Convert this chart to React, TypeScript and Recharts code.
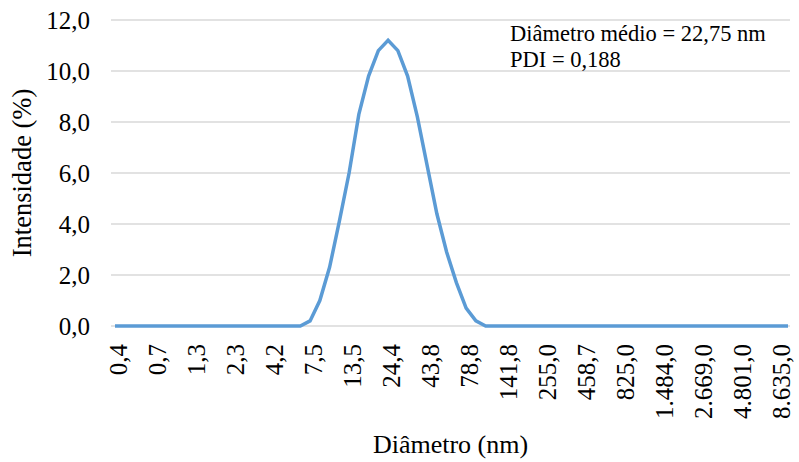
import React from 'react';
import { LineChart, Line, XAxis, YAxis, CartesianGrid, Label, Customized } from 'recharts';

// size bins (nm) of the DLS distribution
const diameters = [
  0.4, 0.4632, 0.5365, 0.6213, 0.7195, 0.8332, 0.9649, 1.117, 1.294, 1.499,
  1.736, 2.01, 2.328, 2.696, 3.122, 3.615, 4.187, 4.849, 5.615, 6.503,
  7.531, 8.721, 10.1, 11.7, 13.54, 15.69, 18.17, 21.04, 24.36, 28.21,
  32.67, 37.84, 43.82, 50.75, 58.77, 68.06, 78.82, 91.28, 105.7, 122.4,
  141.8, 164.2, 190.1, 220.2, 255.0, 295.3, 342.0, 396.1, 458.7, 531.2,
  615.1, 712.4, 825.0, 955.4, 1106, 1281, 1484, 1718, 1990, 2305,
  2669, 3091, 3580, 4145, 4801, 5560, 6439, 7456, 8635, 10000,
];

// intensity (%)
const intensity = [
  0, 0, 0, 0, 0, 0, 0, 0, 0, 0,
  0, 0, 0, 0, 0, 0, 0, 0, 0, 0,
  0.2, 1.0, 2.3, 4.1, 6.0, 8.3, 9.8, 10.8, 11.2, 10.8,
  9.8, 8.2, 6.3, 4.4, 2.9, 1.7, 0.7, 0.2, 0, 0,
  0, 0, 0, 0, 0, 0, 0, 0, 0, 0,
  0, 0, 0, 0, 0, 0, 0, 0, 0, 0,
  0, 0, 0, 0, 0, 0, 0, 0, 0, 0,
];

const yTicks = [0, 2, 4, 6, 8, 10, 12];
const notes = ['Diâmetro médio = 22,75 nm', 'PDI = 0,188'];

const SERIF = 'Liberation Serif';

// 1484 -> "1.484,0"
const fmtBR = (v: number) => {
  const [intPart, dec] = v.toFixed(1).split('.');
  return intPart.replace(/\B(?=(\d{3})+(?!\d))/g, '.') + ',' + dec;
};

const data = diameters.map((d, i) => ({ d: fmtBR(d), v: intensity[i] }));

const XTick = (props: any) => {
  const { x, y, payload } = props;
  const tx = x + 12;
  const ty = y + 10;
  return (
    <text
      x={tx}
      y={ty}
      transform={`rotate(-90, ${tx}, ${ty})`}
      textAnchor="end"
      fontFamily={SERIF}
      fontSize={25}
      fill="#000"
    >
      {payload.value}
    </text>
  );
};

const YTick = (props: any) => {
  const { y, payload } = props;
  return (
    <text x={90} y={y + 8.5} textAnchor="end" fontFamily={SERIF} fontSize={25} fill="#000">
      {payload.value.toFixed(1).replace('.', ',')}
    </text>
  );
};

const Notes = () => (
  <g fontFamily={SERIF}>
    {notes.map((t, i) => (
      <text key={i} x={510} y={41 + i * 26} fontSize={22.5} fill="#000">
        {t}
      </text>
    ))}
  </g>
);

export default function App() {
  return (
    <div style={{ position: 'absolute', left: 0, top: 0 }}>
      <LineChart
        width={799}
        height={462}
        data={data}
        margin={{ top: 20, right: 9, left: 0, bottom: 0 }}
      >
        <CartesianGrid vertical={false} stroke="#d9d9d9" strokeWidth={1.3} />
        <XAxis
          dataKey="d"
          interval={3}
          height={136}
          axisLine={false}
          tickLine={false}
          padding={{ left: 4, right: 2 }}
          tick={<XTick />}
        >
          <Label
            content={(p: any) => {
              const vb = p.viewBox;
              return (
                <text
                  x={vb.x + vb.width / 2}
                  y={453}
                  textAnchor="middle"
                  fontFamily={SERIF}
                  fontSize={26}
                  fill="#000"
                >
                  Diâmetro (nm)
                </text>
              );
            }}
          />
        </XAxis>
        <YAxis
          domain={[0, 12]}
          ticks={yTicks}
          width={111}
          axisLine={false}
          tickLine={false}
          tick={<YTick />}
        >
          <Label
            content={() => (
              <text
                x={31}
                y={173}
                transform="rotate(-90, 31, 173)"
                textAnchor="middle"
                fontFamily={SERIF}
                fontSize={26.5}
                fill="#000"
              >
                Intensidade (%)
              </text>
            )}
          />
        </YAxis>
        <Line
          type="linear"
          dataKey="v"
          stroke="#5b9bd5"
          strokeWidth={3.5}
          dot={false}
          isAnimationActive={false}
        />
        <Customized component={Notes} />
      </LineChart>
    </div>
  );
}
